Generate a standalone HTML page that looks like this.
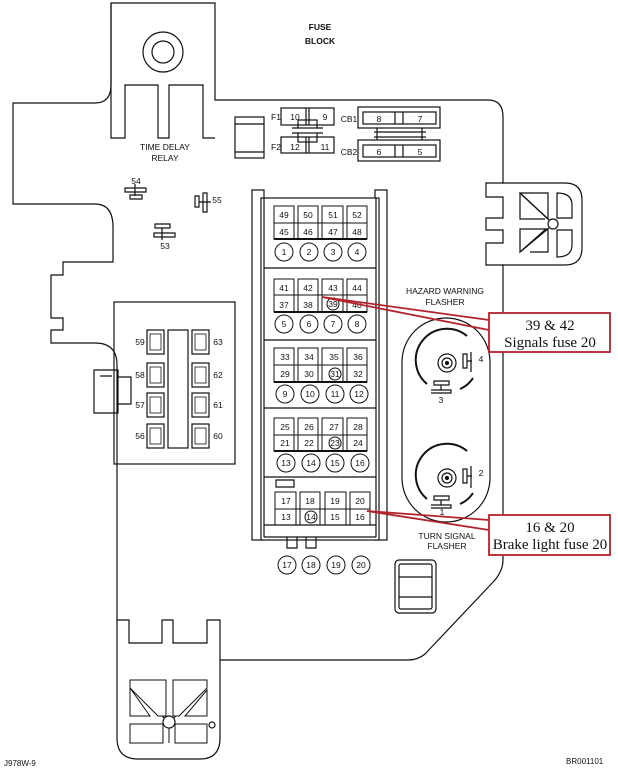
<!DOCTYPE html>
<html><head><meta charset="utf-8"><style>
html,body{margin:0;padding:0;background:#fff;width:618px;height:770px;overflow:hidden}
svg{display:block}
text{font-family:"Liberation Sans",sans-serif;fill:#111;stroke:none}
.s{font-size:8.5px;text-anchor:middle}
.r{font-family:"Liberation Serif",serif;font-size:15px;text-anchor:middle}
</style></head><body>
<svg width="618" height="770" viewBox="0 0 618 770" xmlns="http://www.w3.org/2000/svg" fill="none" stroke="#111" stroke-width="1.2">
<!-- main outline -->
<path d="M111,3 H215 V100 H488 Q503,100 503,117 V183 H486 V197 H503 V218 H486 V230 H503 V243 H486 V265 H503 V560 Q503,570 495,580 L425,654 Q418,660 408,660 H220 V620 H207 V643 H173 V620 H162 V643 H129 V620 H117 V365 Q117,343 95,343 H51 V330 H63 V318 H51 V275 H63 V262 H113 V227 Q113,204 95,204 H13 V103 H95 Q111,103 111,85 Z"/>
<!-- bottom tab -->
<path d="M117,620 V738 Q117,759 138,759 H200 Q220,759 220,738 V660"/>
<g stroke-width="1">
<path d="M130,680 H166 V716 H158 L130,688 Z M130,688 V716 H150 Z"/>
<path d="M173,680 H207 V688 L179,716 H173 Z M207,690 V716 H185 Z"/>
<rect x="130" y="724" width="33" height="19"/><rect x="175" y="724" width="32" height="19"/>
<path d="M162,716 L169,722 M176,716 L169,722 M169,728 V743"/>
</g>
<circle cx="169" cy="722" r="6" fill="#fff"/><circle cx="212" cy="725" r="3"/>
<!-- top tab -->
<path d="M111,3 V138 H125 V85 H158 V138 H169 V85 H203 V138 H215"/>
<circle cx="163" cy="52" r="20"/><circle cx="163" cy="52" r="11"/>
<!-- right tab -->
<path d="M503,183 H565 Q582,183 582,200 V248 Q582,265 565,265 H503"/>
<path d="M520,193 H548 V219 Z M520,193 V219 H545 M520,229 H546 L520,252 Z M520,229 V252 M530,252 H548 V229 M557,193 Q572,193 572,205 V218 H557 Z M557,230 H572 V245 Q572,257 557,257 Z"/>
<circle cx="553" cy="224" r="5"/>
<path d="M520,193 L549,220 M520,252 L549,228"/>
<!-- left connector -->
<path d="M94,370 H118 V413 H94 Z M100,376 L112,376 M118,377 H131 V404 H118"/>
<!-- top components -->
<rect x="235" y="117" width="29" height="41"/><path d="M235,124 H264 M235,152 H264"/>
<rect x="281" y="108" width="53" height="17"/><path d="M309,108 V125 M306,108 V125"/>
<rect x="281" y="137" width="53" height="16"/><path d="M309,137 V153 M306,137 V153"/>
<rect x="298" y="120" width="19" height="8"/><rect x="298" y="133" width="19" height="9"/>
<path d="M292,128 H298 M317,128 H323 M292,133 H298 M317,133 H323"/>
<text x="276" y="120" class="s" font-size="9">F1</text><text x="276" y="150" class="s" font-size="9">F2</text>
<text x="295" y="120" class="s">10</text><text x="325" y="120" class="s">9</text>
<text x="295" y="150" class="s">12</text><text x="325" y="150" class="s">11</text>
<rect x="358" y="107" width="82" height="21"/><rect x="363" y="112" width="73" height="12"/><path d="M395,112 V124 M403,112 V124"/>
<rect x="358" y="140" width="82" height="21"/><rect x="363" y="145" width="73" height="12"/><path d="M395,145 V157 M403,145 V157"/>
<path d="M377,128 V140 M422,128 V140 M374,132 H426 M374,137 H426"/>
<text x="349" y="122" class="s">CB1</text><text x="349" y="155" class="s">CB2</text>
<text x="379" y="122" class="s">8</text><text x="420" y="122" class="s">7</text>
<text x="379" y="155" class="s">6</text><text x="420" y="155" class="s">5</text>
<text x="320" y="30" class="s" font-size="11" font-weight="bold">FUSE</text>
<text x="320" y="44" class="s" font-size="11" font-weight="bold">BLOCK</text>
<text x="165" y="150" class="s">TIME DELAY</text><text x="165" y="161" class="s">RELAY</text>
<!-- small relays -->
<path d="M125,188 H146 V192 H125 Z M135,184 V196 M130,195 H142 V199 H130 Z"/>
<text x="136" y="184" class="s">54</text>
<path d="M203,193 H207 V212 H203 Z M195,196 H199 V207 H195 Z M199,202 H211"/>
<text x="217" y="203" class="s">55</text>
<path d="M155,224 H170 V228 H155 Z M154,233 H175 V237 H154 Z M162,228 V240"/>
<text x="165" y="249" class="s">53</text>
<!-- relay box -->
<rect x="114" y="302" width="121" height="162"/>
<rect x="168" y="330" width="20" height="118"/>
<g fill="#fff">
<rect x="147" y="330" width="17" height="24"/><rect x="192" y="330" width="17" height="24"/>
<rect x="147" y="363" width="17" height="24"/><rect x="192" y="363" width="17" height="24"/>
<rect x="147" y="393" width="17" height="24"/><rect x="192" y="393" width="17" height="24"/>
<rect x="147" y="424" width="17" height="24"/><rect x="192" y="424" width="17" height="24"/>
</g>
<g stroke-width="0.8">
<rect x="150" y="334" width="11" height="16"/><rect x="195" y="334" width="11" height="16"/>
<rect x="150" y="367" width="11" height="16"/><rect x="195" y="367" width="11" height="16"/>
<rect x="150" y="397" width="11" height="16"/><rect x="195" y="397" width="11" height="16"/>
<rect x="150" y="428" width="11" height="16"/><rect x="195" y="428" width="11" height="16"/>
</g>
<text x="140" y="345" class="s">59</text><text x="140" y="378" class="s">58</text><text x="140" y="408" class="s">57</text><text x="140" y="439" class="s">56</text>
<text x="218" y="345" class="s">63</text><text x="218" y="378" class="s">62</text><text x="218" y="408" class="s">61</text><text x="218" y="439" class="s">60</text>
<!-- fuse panel -->
<rect x="252" y="190" width="12" height="350"/><rect x="375" y="190" width="12" height="350"/>
<rect x="261" y="198" width="118" height="342" fill="#fff"/>
<path d="M264,198 V537 M376,198 V537 M264,268 H376 M264,340 H376 M264,408 H376 M264,477 H376 M264,525 H376 M264,537 H376"/>
<path d="M276,480 H294 V487 H276 Z M287,537 V548 H297 V537 M306,537 V548 H316 V537"/>
<g stroke-width="1">
<rect x="274" y="206" width="20" height="33"/><rect x="298" y="206" width="20" height="33"/><rect x="322" y="206" width="21" height="33"/><rect x="347" y="206" width="20" height="33"/>
<path d="M274,223 H367"/>
<rect x="274" y="279" width="20" height="33"/><rect x="298" y="279" width="20" height="33"/><rect x="322" y="279" width="21" height="33"/><rect x="347" y="279" width="20" height="33"/>
<path d="M274,295 H367"/>
<rect x="274" y="348" width="20" height="34"/><rect x="298" y="348" width="20" height="34"/><rect x="322" y="348" width="21" height="34"/><rect x="347" y="348" width="20" height="34"/>
<path d="M274,365 H367"/>
<rect x="274" y="418" width="20" height="33"/><rect x="298" y="418" width="20" height="33"/><rect x="322" y="418" width="21" height="33"/><rect x="347" y="418" width="20" height="33"/>
<path d="M274,435 H367"/>
<rect x="275" y="492" width="21" height="33"/><rect x="300" y="492" width="20" height="33"/><rect x="325" y="492" width="21" height="33"/><rect x="350" y="492" width="20" height="33"/>
<path d="M275,509 H370"/>
<path d="M274,239 H367 M274,312 H367 M274,382 H367 M274,451 H367" stroke-width="2"/>
</g>
<g stroke-width="1">
<circle cx="284" cy="252" r="9"/><circle cx="309" cy="252" r="9"/><circle cx="333" cy="252" r="9"/><circle cx="357" cy="252" r="9"/>
<circle cx="284" cy="324" r="9"/><circle cx="309" cy="324" r="9"/><circle cx="333" cy="324" r="9"/><circle cx="357" cy="324" r="9"/>
<circle cx="285" cy="394" r="9"/><circle cx="310" cy="394" r="9"/><circle cx="335" cy="394" r="9"/><circle cx="359" cy="394" r="9"/>
<circle cx="286" cy="463" r="9"/><circle cx="311" cy="463" r="9"/><circle cx="335" cy="463" r="9"/><circle cx="360" cy="463" r="9"/>
<circle cx="287" cy="565" r="9"/><circle cx="311" cy="565" r="9"/><circle cx="336" cy="565" r="9"/><circle cx="361" cy="565" r="9"/>
<circle cx="333" cy="304" r="6"/><circle cx="335" cy="374" r="6"/><circle cx="335" cy="443" r="6"/><circle cx="311" cy="517" r="6"/>
</g>
<text x="284" y="218" class="s">49</text><text x="308" y="218" class="s">50</text><text x="333" y="218" class="s">51</text><text x="357" y="218" class="s">52</text>
<text x="284" y="235" class="s">45</text><text x="308" y="235" class="s">46</text><text x="333" y="235" class="s">47</text><text x="357" y="235" class="s">48</text>
<text x="284" y="255" class="s">1</text><text x="309" y="255" class="s">2</text><text x="333" y="255" class="s">3</text><text x="357" y="255" class="s">4</text>
<text x="284" y="291" class="s">41</text><text x="308" y="291" class="s">42</text><text x="333" y="291" class="s">43</text><text x="357" y="291" class="s">44</text>
<text x="284" y="308" class="s">37</text><text x="308" y="308" class="s">38</text><text x="333" y="307" class="s">39</text><text x="357" y="308" class="s">40</text>
<text x="284" y="327" class="s">5</text><text x="309" y="327" class="s">6</text><text x="333" y="327" class="s">7</text><text x="357" y="327" class="s">8</text>
<text x="285" y="360" class="s">33</text><text x="309" y="360" class="s">34</text><text x="334" y="360" class="s">35</text><text x="358" y="360" class="s">36</text>
<text x="285" y="377" class="s">29</text><text x="309" y="377" class="s">30</text><text x="335" y="377" class="s">31</text><text x="358" y="377" class="s">32</text>
<text x="285" y="397" class="s">9</text><text x="310" y="397" class="s">10</text><text x="335" y="397" class="s">11</text><text x="359" y="397" class="s">12</text>
<text x="285" y="430" class="s">25</text><text x="309" y="430" class="s">26</text><text x="334" y="430" class="s">27</text><text x="358" y="430" class="s">28</text>
<text x="285" y="446" class="s">21</text><text x="309" y="446" class="s">22</text><text x="335" y="446" class="s">23</text><text x="358" y="446" class="s">24</text>
<text x="286" y="466" class="s">13</text><text x="311" y="466" class="s">14</text><text x="335" y="466" class="s">15</text><text x="360" y="466" class="s">16</text>
<text x="286" y="504" class="s">17</text><text x="310" y="504" class="s">18</text><text x="335" y="504" class="s">19</text><text x="360" y="504" class="s">20</text>
<text x="286" y="520" class="s">13</text><text x="311" y="520" class="s">14</text><text x="335" y="520" class="s">15</text><text x="360" y="520" class="s">16</text>
<text x="287" y="568" class="s">17</text><text x="311" y="568" class="s">18</text><text x="336" y="568" class="s">19</text><text x="361" y="568" class="s">20</text>
<!-- flasher oval -->
<rect x="402" y="318" width="88" height="204" rx="44"/>
<g>
<circle cx="447" cy="363" r="9"/><circle cx="447" cy="363" r="5"/><circle cx="447" cy="363" r="1.5" fill="#111"/>
<path d="M427,384 A29,29 0 0 1 467,336" stroke-width="2"/>
<path d="M473,378 A29,29 0 0 1 460,389" stroke-width="2"/>
<path d="M463,354 H467 V368 H463 Z M467,361 H472 M471,352 V372"/>
<path d="M434,381 H449 V385 H434 Z M441,385 V390 M431,390 H451 V393 H431"/>
<text x="481" y="362" class="s">4</text><text x="441" y="403" class="s">3</text>
<circle cx="447" cy="478" r="9"/><circle cx="447" cy="478" r="5"/><circle cx="447" cy="478" r="1.5" fill="#111"/>
<path d="M427,499 A29,29 0 0 1 467,451" stroke-width="2"/>
<path d="M473,493 A29,29 0 0 1 460,504" stroke-width="2"/>
<path d="M463,469 H467 V483 H463 Z M467,476 H472 M471,466 V488"/>
<path d="M434,496 H449 V500 H434 Z M441,500 V505 M431,505 H451 V508 H431"/>
<text x="481" y="476" class="s">2</text><text x="442" y="515" class="s">1</text>
</g>
<text x="445" y="294" class="s">HAZARD WARNING</text><text x="445" y="305" class="s">FLASHER</text>
<text x="447" y="539" class="s">TURN SIGNAL</text><text x="447" y="549" class="s">FLASHER</text>
<!-- bottom right window -->
<rect x="395" y="560" width="41" height="53" rx="4"/><rect x="399" y="564" width="33" height="45" rx="2"/>
<path d="M399,577 H432 M399,597 H432"/>
<!-- red callouts -->
<g stroke="#b3232b" stroke-width="1.8">
<path d="M322,297 L489,320 M322,297 L489,330 M367,511 L489,520 M367,511 L489,530"/>
<rect x="489" y="313" width="121" height="39" fill="#fff"/>
<rect x="489" y="515" width="121" height="40" fill="#fff"/>
</g>
<text x="550" y="330" class="r">39 &amp; 42</text><text x="550" y="347" class="r">Signals fuse 20</text>
<text x="550" y="532" class="r">16 &amp; 20</text><text x="550" y="549" class="r">Brake light fuse 20</text>
<text x="4" y="766" font-size="8">J978W-9</text>
<text x="566" y="764" font-size="8">BR001101</text>
</svg>
</body></html>
